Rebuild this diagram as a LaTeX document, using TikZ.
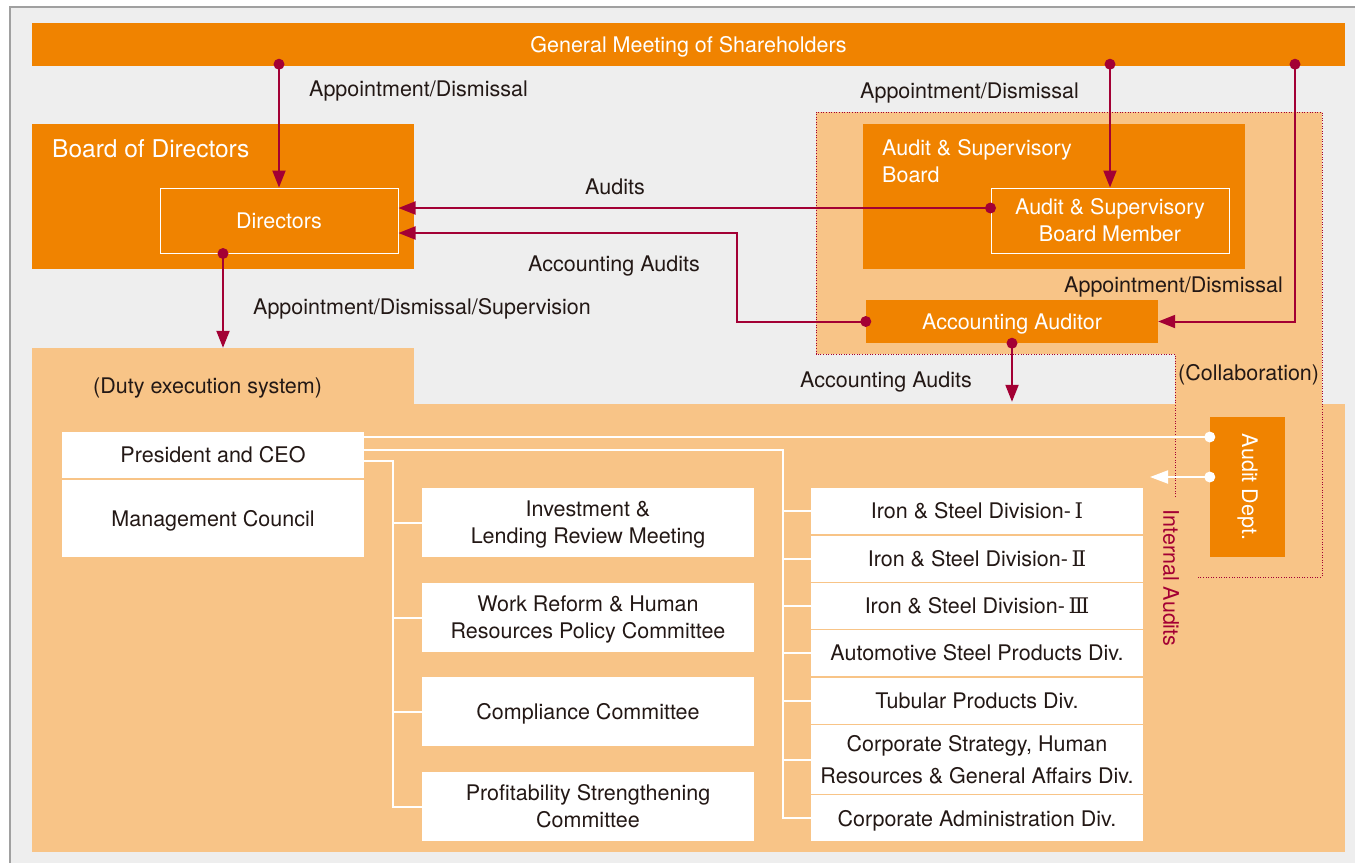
\documentclass[tikz,border=0pt]{standalone}
\usepackage{fontspec}
\setmainfont{TeX Gyre Heros}
\newfontfamily\numfont{DejaVu Serif}
\usetikzlibrary{arrows.meta}
\definecolor{orng}{HTML}{F08300}
\definecolor{lorng}{HTML}{F8C487}
\definecolor{dkred}{HTML}{A30034}
\definecolor{bggray}{HTML}{EEEEEE}
\definecolor{framegray}{HTML}{A0A0A0}
\definecolor{txt}{HTML}{231815}
\newcommand{\mainfs}{\fontsize{21.5}{27}\selectfont}
\newcommand{\bigfs}{\fontsize{24.5}{29}\selectfont}
\newcommand{\rn}[1]{\,{\numfont #1}}
\newcommand{\nd}[1]{\raisebox{0pt}[\height][0pt]{#1}}
\begin{document}
\begin{tikzpicture}[x=1pt,y=-1pt,
  every node/.style={font=\mainfs, inner sep=0pt},
  obox/.style={fill=orng, text=white, align=center},
  wbox/.style={fill=white, text=txt, align=center},
  lbl/.style={text=txt, anchor=base west},
  rline/.style={draw=dkred, line width=2pt},
  rarrow/.style={rline, -{Triangle[length=17pt,width=13pt]}},
  wline/.style={draw=white, line width=2pt},
  warrow/.style={wline, -{Triangle[length=18pt,width=13pt]}},
  rdot/.style={fill=dkred},
  wdot/.style={fill=white},
  comm/.style={wbox, minimum width=332pt, minimum height=69pt},
  divbox/.style={wbox, minimum width=332pt, minimum height=46pt},
]
\useasboundingbox (0,0) rectangle (1355,863);
% background and frame
\fill[white] (0,0) rectangle (1355,863);
\fill[bggray] (10,7) rectangle (1355,863);
\draw[framegray, line width=1.5pt] (10,863) -- (10,7) -- (1355,7);

% duty execution system area
\node[fill=lorng, minimum width=382pt, minimum height=57pt] (dutytab) at (223,376.5) {};
\node[fill=lorng, minimum width=1313pt, minimum height=448pt] (dutymain) at (688.5,628) {};

% audit region
\fill[lorng] (816,112) -- (1322,112) -- (1322,577) -- (1175,577) -- (1175,354) -- (816,354) -- cycle;
\draw[dkred, line width=0.9pt, dash pattern=on 1pt off 1.6pt]
  (1175,497) -- (1175,354) -- (816,354) -- (816,112) -- (1322,112) -- (1322,577) -- (1198,577);

% top boxes
\node[obox, minimum width=1313pt, minimum height=43pt] (gms) at (688.5,44.5) {\nd{General Meeting of Shareholders}};
\node[obox, minimum width=382pt, minimum height=145pt] (bod) at (223,196.5) {};
\node[text=white, font=\bigfs, anchor=west] (bodl) at (52,149) {Board of Directors};
\node[obox, draw=white, line width=1pt, minimum width=238pt, minimum height=65pt] (dirs) at (279,220.5) {Directors};
\node[obox, minimum width=382pt, minimum height=145pt] (asb) at (1054,196.5) {};
\node[text=white, align=left, anchor=west] (asbl) at (882,161) {Audit \& Supervisory\\Board};
\node[obox, draw=white, line width=1pt, minimum width=238pt, minimum height=65pt] (asbm) at (1110,220.5) {Audit \& Supervisory\\Board Member};
\node[obox, minimum width=292pt, minimum height=43pt] (aa) at (1012,321.5) {\nd{Accounting Auditor}};
\node[obox, minimum width=75pt, minimum height=140pt] (adept) at (1247.5,487) {};
\node[text=white, rotate=-90] (adeptl) at (adept.center) {Audit Dept.};

% duty execution boxes
\node[wbox, minimum width=302pt, minimum height=46pt] (pres) at (213,455) {President and CEO};
\node[wbox, minimum width=302pt, minimum height=77pt] (mc) at (213,518.5) {\nd{Management Council}};

\node[comm] (c1) at (588,522.5) {Investment \&\\\nd{Lending Review Meeting}};
\node[comm] (c2) at (588,617.5) {Work Reform \& Human\\\nd{Resources Policy Committee}};
\node[comm] (c3) at (588,711.5) {\nd{Compliance Committee}};
\node[comm] (c4) at (588,806.5) {Profitability Strengthening\\Committee};

\node[divbox] (d1) at (977,511) {Iron \& Steel Division-\rn{Ⅰ}};
\node[divbox] (d2) at (977,559) {Iron \& Steel Division-\rn{Ⅱ}};
\node[divbox] (d3) at (977,606) {Iron \& Steel Division-\rn{Ⅲ}};
\node[divbox] (d4) at (977,653) {Automotive Steel Products Div.};
\node[divbox] (d5) at (977,701) {Tubular Products Div.};
\node[divbox, minimum height=69pt, font=\fontsize{21.5}{32}\selectfont] (d6) at (977,759.5) {Corporate Strategy, Human\\Resources \& General Affairs Div.};
\node[divbox] (d7) at (977,818) {\nd{Corporate Administration Div.}};

% red connectors
\path (dirs.north |- gms.south) ++(0,-2) coordinate (g1);
\draw[rarrow] (g1) -- (dirs.north);
\fill[rdot] (g1) circle (5.5pt);

\path (asbm.north |- gms.south) ++(0,-2) coordinate (g2);
\draw[rarrow] (g2) -- (asbm.north);
\fill[rdot] (g2) circle (5.5pt);

\path (gms.south -| 1295,0) ++(0,-2) coordinate (g3);
\draw[rarrow] (g3) |- (aa.east);
\fill[rdot] (g3) circle (5.5pt);

\path (asbm.west) ++(0,-12.5) coordinate (m1);
\draw[rarrow] (m1) -- (dirs.east |- m1);
\fill[rdot] (m1) circle (5.5pt);

\path (dirs.east) ++(0,12.5) coordinate (din);
\draw[rarrow] (aa.west) -- ++(-129,0) |- (din);
\fill[rdot] (aa.west) circle (5.5pt);

\draw[rarrow] (aa.south) -- ([yshift=2pt]aa.south |- dutymain.north);
\fill[rdot] (aa.south) circle (5.5pt);

\path (dirs.south -| dutytab.north) coordinate (ds);
\draw[rarrow] (ds) -- (dutytab.north);
\fill[rdot] (ds) circle (5.5pt);

% white connectors
\path (adept.west) ++(0,-50) coordinate (a1);
\draw[wline] (pres.east |- a1) -- (a1);
\fill[wdot] (a1) circle (5.5pt);
\path (adept.west) ++(0,-10) coordinate (a2);
\coordinate (ia) at (1150,477);
\draw[warrow] (a2) -- (ia);
\fill[wdot] (a2) circle (5.5pt);

\coordinate (sp1) at (783,449.5);
\draw[wline] (pres.east |- sp1) -- (sp1) |- (d7.west);
\foreach \d in {d1,d2,d3,d4,d5,d6} \draw[wline] (sp1 |- \d.west) -- (\d.west);

\coordinate (sp2) at (393,461);
\draw[wline] (pres.east |- sp2) -- (sp2) |- (c4.west);
\foreach \c in {c1,c2,c3} \draw[wline] (sp2 |- \c.west) -- (\c.west);

% labels
\node[lbl] (l1) at (309,96.5) {Appointment/Dismissal};
\node[lbl] (l2) at (860,98) {Appointment/Dismissal};
\node[text=txt, anchor=base] (l3) at (615,194) {Audits};
\node[lbl] (l4) at (528,271) {Accounting Audits};
\node[lbl] (l5) at (253,314) {Appointment/Dismissal/Supervision};
\node[lbl] (l6) at (1064,292) {Appointment/Dismissal};
\node[lbl] (l7) at (800,387) {Accounting Audits};
\node[lbl] (l8) at (1178,380) {(Collaboration)};
\node[lbl] (l9) at (93,393) {(Duty execution system)};
\node[text=dkred, rotate=-90] (l10) at (1171,578) {Internal Audits};
\end{tikzpicture}
\end{document}
